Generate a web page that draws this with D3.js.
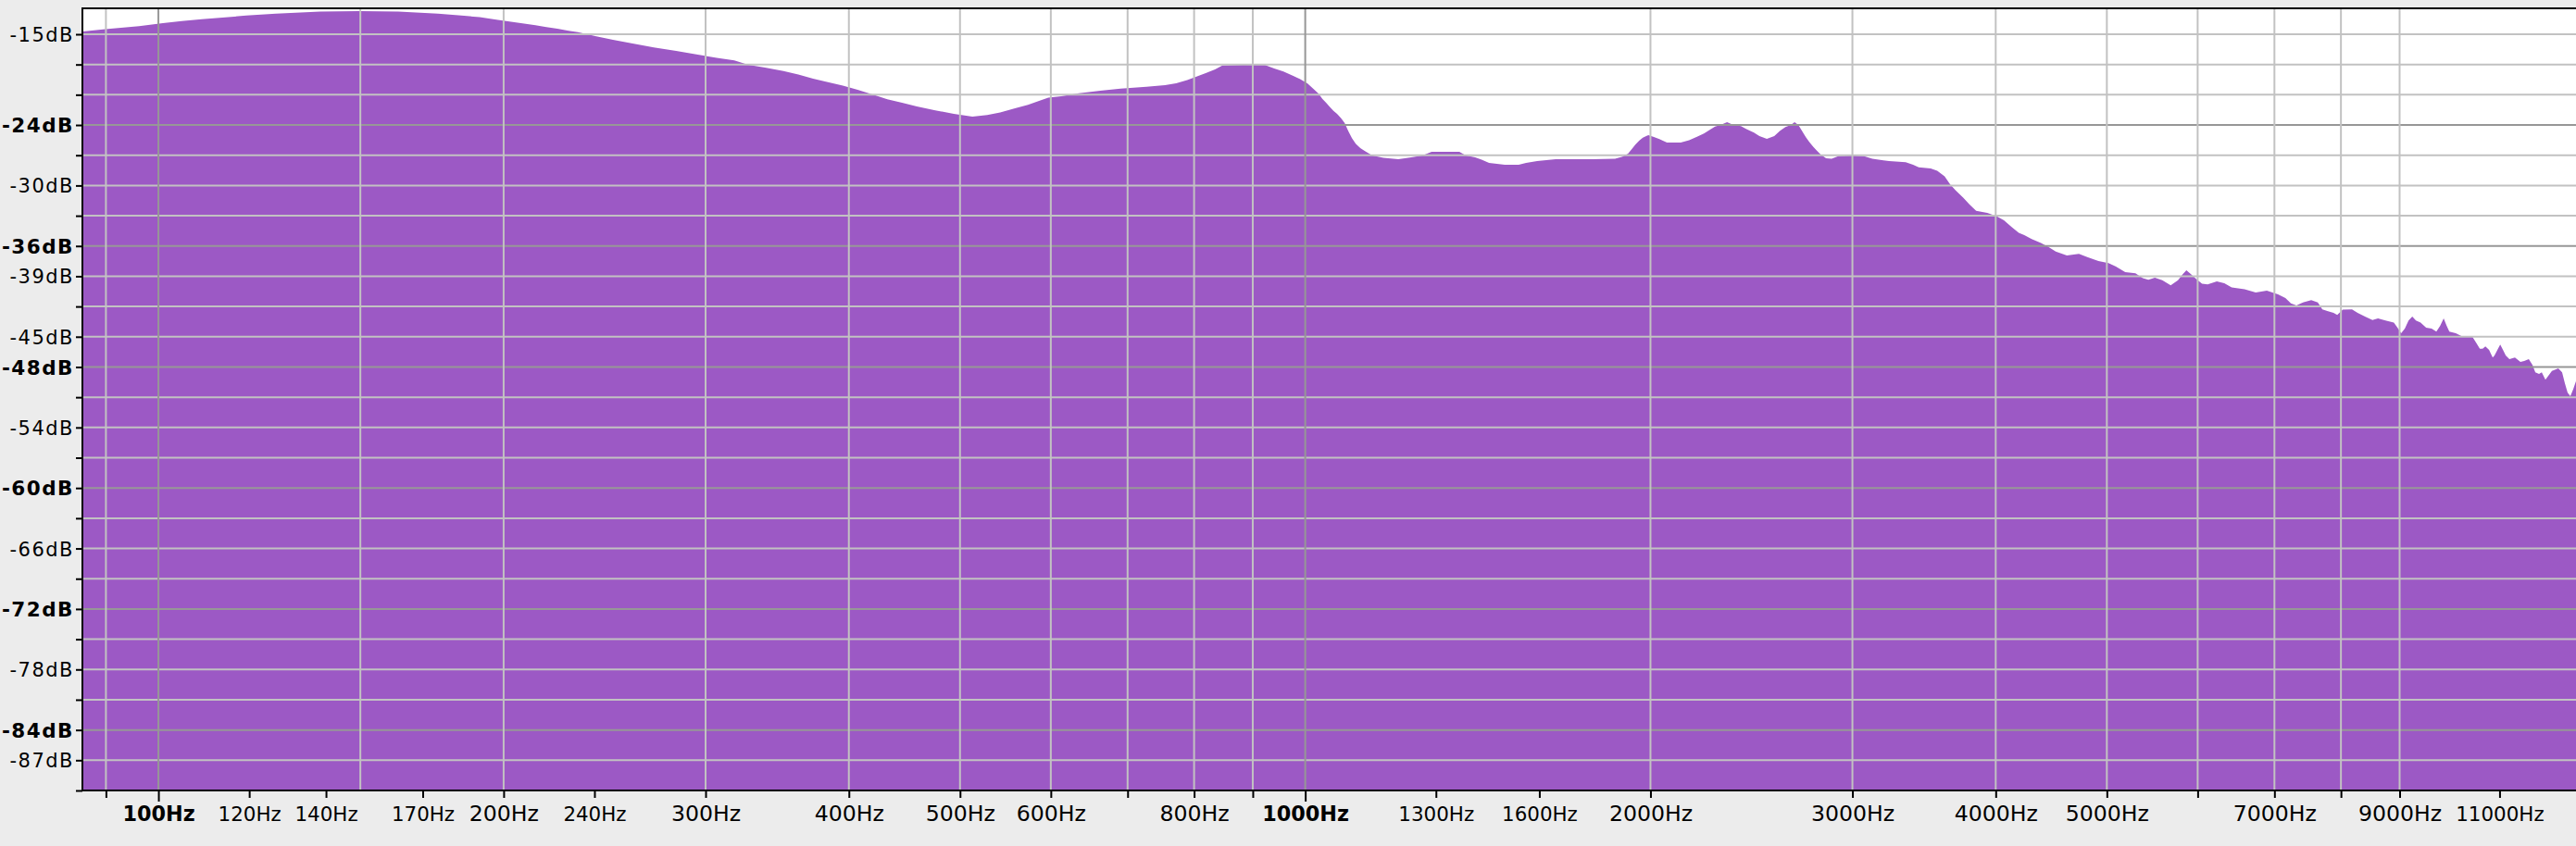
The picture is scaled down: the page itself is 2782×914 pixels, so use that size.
<!DOCTYPE html>
<html><head><meta charset="utf-8">
<script src="https://cdn.jsdelivr.net/npm/d3@7"></script>
<style>html,body{margin:0;padding:0;background:#ececec;overflow:hidden}svg{display:block}</style>
</head><body><svg id="c" width="2782" height="914"></svg>
<script>
// ---- data ----
const freqHz = [85.9,89.9,96.2,100.9,104.8,109.1,113.7,119.3,126.6,138.4,149.7,161.9,175.3,183.7,190.6,197.1,203.0,208.4,213.2,217.9,222.8,227.9,232.2,240.9,249.1,258.5,270.4,282.8,294.5,306.8,317.8,326.8,338.0,350.8,361.4,372.3,383.5,395.2,407.1,419.4,432.1,445.1,458.5,475.8,493.8,512.6,528.1,542.0,558.4,573.1,586.0,597.0,612.7,634.8,662.6,690.2,727.0,754.6,771.6,789.1,803.8,818.9,834.3,846.7,883.8,922.4,939.7,957.2,975.2,989.9,1004.7,1016,1027.3,1034.9,1042.8,1050.5,1058.3,1066,1074.2,1082.2,1090.2,1098.3,1106.6,1116.9,1127.4,1144.2,1170,1205.5,1237.3,1265.1,1288.9,1362.7,1380.6,1406.6,1424.9,1446.4,1492.8,1535,1558,1593,1653.5,1781.4,1862.7,1890.8,1911.8,1925.9,1940.2,1955,1969.5,1991.5,2013.7,2036.2,2067,2125.3,2161.4,2193.5,2226.6,2251.4,2276.7,2302,2332.5,2362.8,2398.4,2425,2461.7,2488.9,2526.4,2564.5,2593,2622.3,2651.5,2671.1,2691.5,2711.4,2731.5,2751.7,2772.7,2793.2,2813.9,2845.7,2877.4,2915.4,2997.7,3071,3122.4,3229,3338.6,3389,3427,3510.7,3557,3609.9,3650.7,3691.3,3747,3795.8,3845.9,3932.8,4006,4066.5,4127.8,4189.2,4236.4,4299.5,4380.3,4446.3,4512.5,4614.5,4727.4,4807.5,4916,5017,5092.5,5188,5295.5,5374,5435,5506,5589,5684,5768,5823,5866,5920,5987,6053,6121.5,6235.6,6330,6424,6593,6742,6894,7050,7156,7236,7316,7413,7537,7637,7707,7795,7882,7941,8029,8180,8272,8396,8523,8618,8748,8896,8962,9028,9095,9164,9232,9300,9387,9492,9598,9689,9761,9833,9890,9945,10074,10226,10418,10495,10573,10631,10692,10771,10811,10850,10890,10953,11015,11076,11137,11220,11345,11471,11558,11665,11751,11819,11907,11973,12061,12128,12220,12378,12472,12541,12611,12681,12754,12825];
const levelDb = [-14.72,-14.5,-14.2,-13.9,-13.7,-13.5,-13.35,-13.15,-12.95,-12.75,-12.7,-12.75,-12.95,-13.15,-13.3,-13.55,-13.75,-13.95,-14.1,-14.3,-14.45,-14.65,-14.8,-15.2,-15.55,-15.9,-16.3,-16.65,-17.0,-17.35,-17.6,-18.03,-18.3,-18.65,-19.0,-19.4,-19.75,-20.1,-20.5,-20.97,-21.45,-21.8,-22.15,-22.55,-22.9,-23.17,-23.0,-22.75,-22.35,-22.0,-21.6,-21.3,-21.15,-20.85,-20.6,-20.4,-20.2,-20.05,-19.87,-19.55,-19.2,-18.85,-18.5,-18.1,-18.03,-18.05,-18.4,-18.7,-19.1,-19.45,-19.9,-20.4,-20.9,-21.4,-21.8,-22.2,-22.6,-22.9,-23.3,-23.8,-24.6,-25.3,-25.85,-26.3,-26.6,-27.03,-27.25,-27.4,-27.2,-27.03,-26.66,-26.66,-27.03,-27.21,-27.45,-27.75,-27.95,-27.95,-27.77,-27.58,-27.4,-27.4,-27.35,-27.15,-26.85,-26.4,-25.95,-25.55,-25.25,-25.0,-25.19,-25.4,-25.75,-25.75,-25.5,-25.2,-24.85,-24.5,-24.15,-24.0,-23.72,-24.0,-24.1,-24.4,-24.75,-25.1,-25.38,-25.1,-24.6,-24.2,-24.0,-23.72,-24.0,-24.6,-25.2,-25.7,-26.15,-26.55,-26.9,-27.3,-27.35,-27.1,-27.03,-27.1,-27.35,-27.58,-27.7,-27.95,-28.2,-28.32,-28.55,-29.1,-29.9,-30.5,-31.2,-31.9,-32.5,-32.72,-33.05,-33.45,-34.1,-34.7,-34.93,-35.3,-35.7,-36.1,-36.55,-36.95,-36.77,-37.1,-37.5,-37.7,-38.05,-38.6,-38.7,-39.2,-39.34,-39.15,-39.4,-39.89,-39.4,-38.8,-38.42,-38.8,-39.3,-39.75,-39.8,-39.52,-39.7,-40.1,-40.3,-40.62,-40.44,-40.8,-41.17,-41.7,-41.9,-41.6,-41.36,-41.6,-42.28,-42.46,-42.64,-42.83,-42.3,-42.28,-42.64,-43.0,-43.35,-43.19,-43.38,-43.6,-44.1,-44.66,-44.2,-43.4,-43.01,-43.38,-43.6,-44.1,-44.2,-44.48,-43.95,-43.19,-43.9,-44.48,-44.66,-45.03,-45.03,-45.6,-46.2,-46.2,-45.95,-46.3,-46.7,-47.05,-46.86,-46.3,-45.77,-46.3,-46.86,-47.23,-47.05,-47.5,-47.41,-47.23,-47.8,-48.52,-48.7,-48.52,-49.26,-48.89,-48.4,-48.15,-48.52,-49.6,-50.54,-50.9,-50.2,-49.4];

const xBoldLabels = [100, 1000];
const xMidLabels = [200, 300, 400, 500, 600, 800, 2000, 3000, 4000, 5000, 7000, 9000];
const xSmallLabels = [120, 140, 170, 240, 1300, 1600, 11000];
const xPlainTicks = [90, 700, 900, 6000, 8000];
const xGridLight = [90, 150, 200, 300, 400, 500, 600, 700, 800, 900, 2000, 3000, 4000, 5000, 6000, 7000, 8000, 9000];
const xGridDark = [100, 1000];

const yAllTicks = [-15,-18,-21,-24,-27,-30,-33,-36,-39,-42,-45,-48,-51,-54,-57,-60,-63,-66,-69,-72,-75,-78,-81,-84,-87,-90];
const yBoldLabels = [-24, -36, -48, -60, -72, -84];
const yPlainLabels = [-15, -30, -39, -45, -54, -66, -78, -87];

// ---- layout ----
const W = 2782, H = 914;
const L = 89, R = 2782, T = 9, B = 854;
const svg = d3.select("#c");
const x = d3.scaleLog().domain([85.85, 12825]).range([L, R]);
const y = d3.scaleLinear().domain([-90, -12.43]).range([B, T]);
const FONT = "'DejaVu Sans', Verdana, sans-serif";

svg.append("rect").attr("width", W).attr("height", H).attr("fill", "#ececec");
svg.append("rect").attr("x", L).attr("y", T).attr("width", R - L).attr("height", B - T).attr("fill", "#ffffff");

svg.append("clipPath").attr("id", "plotclip").append("rect")
  .attr("x", L).attr("y", T).attr("width", R - L).attr("height", B - T);

const pts = freqHz.map((f, i) => ({f, v: levelDb[i]}));
const area = d3.area().x(d => x(d.f)).y0(y(-90)).y1(d => y(d.v)).curve(d3.curveLinear);
svg.append("path").datum(pts).attr("clip-path", "url(#plotclip)")
  .attr("d", area).attr("fill", "#9c59c5");

// grid
const grid = svg.append("g").attr("clip-path", "url(#plotclip)");
const hGrid = yAllTicks.filter(v => v > -90);
grid.selectAll("line.h").data(hGrid).join("line")
  .attr("x1", L).attr("x2", R).attr("y1", d => y(d)).attr("y2", d => y(d))
  .attr("stroke", d => yBoldLabels.includes(d) ? "#979797" : "#c2c2c2").attr("stroke-width", 2);
grid.selectAll("line.v").data(xGridLight.concat(xGridDark)).join("line")
  .attr("y1", T).attr("y2", B).attr("x1", d => x(d)).attr("x2", d => x(d))
  .attr("stroke", d => xGridDark.includes(d) ? "#979797" : "#c2c2c2").attr("stroke-width", 2);

// y axis
const yAxis = d3.axisLeft(y).tickValues(yAllTicks).tickSize(7).tickSizeOuter(0).tickPadding(2)
  .tickFormat(d => (yBoldLabels.includes(d) || yPlainLabels.includes(d)) ? d + "dB" : "");
const gy = svg.append("g").attr("transform", `translate(${L},0)`).call(yAxis);
gy.select(".domain").attr("stroke", "#000").attr("stroke-width", 2).attr("d", `M0,${T - 1}V${B + 1}`);
gy.selectAll(".tick line").attr("stroke", "#000").attr("stroke-width", 2);
gy.selectAll(".tick text")
  .attr("fill", "#000").attr("font-family", FONT).attr("dy", "0.36em")
  .attr("font-size", d => yBoldLabels.includes(d) ? "21.5px" : "21px")
  .attr("font-weight", d => yBoldLabels.includes(d) ? "bold" : "normal")
  .attr("letter-spacing", "1.5px");

// x axis
const xAllTicks = xBoldLabels.concat(xMidLabels, xSmallLabels, xPlainTicks).sort((a, b) => a - b);
const xAxis = d3.axisBottom(x).tickValues(xAllTicks).tickSize(8).tickSizeOuter(0).tickPadding(0)
  .tickFormat(d => xPlainTicks.includes(d) ? "" : d + "Hz");
const gx = svg.append("g").attr("transform", `translate(0,${B})`).call(xAxis);
gx.select(".domain").attr("stroke", "#000").attr("stroke-width", 2).attr("d", `M${L - 1},0H${R}`);
gx.selectAll(".tick line").attr("stroke", "#000").attr("stroke-width", 2)
  .attr("y2", d => xBoldLabels.includes(d) ? 12 : 8);
gx.selectAll(".tick text")
  .attr("fill", "#000").attr("font-family", FONT).attr("y", 33).attr("dy", 0)
  .attr("font-size", d => xBoldLabels.includes(d) ? "22.3px" : (xMidLabels.includes(d) ? "23.6px" : "21.4px"))
  .attr("font-weight", d => xBoldLabels.includes(d) ? "bold" : "normal");

// frame top
svg.append("line").attr("x1", L - 1).attr("x2", R).attr("y1", T).attr("y2", T)
  .attr("stroke", "#000").attr("stroke-width", 2);
</script>
</body></html>
